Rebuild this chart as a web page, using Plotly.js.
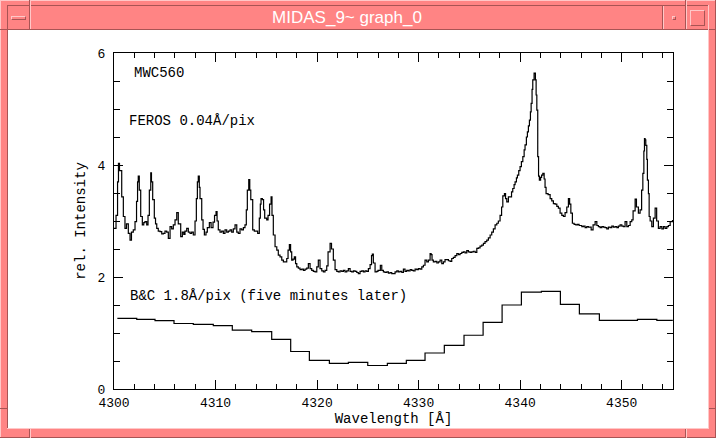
<!DOCTYPE html>
<html>
<head>
<meta charset="utf-8">
<script src="https://cdn.plot.ly/plotly-3.0.1.min.js"></script>
<style>
  html, body { margin: 0; padding: 0; background: #ff8484; }
  #win { position: absolute; left: 0; top: 0; width: 716px; height: 438px; background: #ff8484; overflow: hidden; }
  .ln { position: absolute; }
  #client { position: absolute; left: 8px; top: 30px; width: 700px; height: 398px; background: #ffffff; }
  #ttl { position: absolute; left: 31px; top: 6px; width: 632px; height: 23px; line-height: 23px;
         text-align: center; color: #ffffff; font-family: "Liberation Sans", Arial, sans-serif; font-size: 17px; }
  #chart { position: absolute; left: 0; top: 0; width: 716px; height: 438px; }
</style>
</head>
<body>
<div id="win">
  <!-- outer bevel -->
  <div class="ln" style="left:0;top:0;width:716px;height:1px;background:#ffc8c8"></div>
  <div class="ln" style="left:0;top:0;width:1px;height:438px;background:#ffc8c8"></div>
  <div class="ln" style="left:0;top:437px;width:716px;height:1px;background:#a85454"></div>
  <div class="ln" style="left:715px;top:0;width:1px;height:438px;background:#a85454"></div>
  <!-- inner frame lines -->
  <div class="ln" style="left:7px;top:5px;width:702px;height:1px;background:#a85454"></div>
  <div class="ln" style="left:7px;top:5px;width:1px;height:424px;background:#a85454"></div>
  <div class="ln" style="left:708px;top:5px;width:1px;height:424px;background:#ffc8c8"></div>
  <div class="ln" style="left:7px;top:428px;width:702px;height:1px;background:#ffc8c8"></div>
  <div class="ln" style="left:8px;top:29px;width:700px;height:1px;background:#a85454"></div>
  <!-- title bar separators -->
  <div class="ln" style="left:29px;top:0;width:1px;height:29px;background:#a85454"></div>
  <div class="ln" style="left:30px;top:0;width:1px;height:29px;background:#ffc8c8"></div>
  <div class="ln" style="left:662px;top:6px;width:1px;height:23px;background:#a85454"></div>
  <div class="ln" style="left:663px;top:6px;width:1px;height:23px;background:#ffc8c8"></div>
  <div class="ln" style="left:685px;top:0;width:1px;height:29px;background:#a85454"></div>
  <div class="ln" style="left:686px;top:0;width:1px;height:29px;background:#ffc8c8"></div>
  <!-- resize notches -->
  <div class="ln" style="left:29px;top:429px;width:1px;height:9px;background:#a85454"></div>
  <div class="ln" style="left:30px;top:429px;width:1px;height:9px;background:#ffc8c8"></div>
  <div class="ln" style="left:685px;top:429px;width:1px;height:9px;background:#a85454"></div>
  <div class="ln" style="left:686px;top:429px;width:1px;height:9px;background:#ffc8c8"></div>
  <div class="ln" style="left:0;top:29px;width:7px;height:1px;background:#a85454"></div>
  <div class="ln" style="left:709px;top:29px;width:7px;height:1px;background:#a85454"></div>
  <div class="ln" style="left:0;top:408px;width:7px;height:1px;background:#a85454"></div>
  <div class="ln" style="left:709px;top:408px;width:7px;height:1px;background:#a85454"></div>
  <!-- buttons -->
  <div class="ln" style="left:11px;top:16px;border-top:1px solid #ffc8c8;border-left:1px solid #ffc8c8;border-bottom:1px solid #a85454;border-right:1px solid #a85454;box-sizing:border-box;width:15px;height:4px"></div>
  <div class="ln" style="left:672px;top:16px;width:4px;height:4px;border-top:1px solid #ffc8c8;border-left:1px solid #ffc8c8;border-bottom:1px solid #a85454;border-right:1px solid #a85454;box-sizing:border-box"></div>
  <div class="ln" style="left:690px;top:10px;width:15px;height:16px;border-top:1px solid #ffc8c8;border-left:1px solid #ffc8c8;border-bottom:1px solid #a85454;border-right:1px solid #a85454;box-sizing:border-box"></div>
  <div id="ttl">MIDAS_9~ graph_0</div>
  <div id="client"></div>
  <div id="chart"></div>
</div>
<script>
// FEROS spectrum (0.04 A/pix)
const ferosWavelength = [
4300.00,4300.20,4300.35,4300.44,4300.54,4300.76,4300.92,4301.08,4301.23,4301.41,4301.58,4301.72,4301.90,4302.07,4302.22,4302.32,4302.39,4302.49,4302.63,4302.79,
4302.93,4303.05,4303.22,4303.35,4303.48,4303.62,4303.69,4303.81,4303.97,4304.09,4304.21,4304.36,4304.53,4304.70,4304.86,4305.02,4305.19,4305.35,4305.52,4305.68,
4305.84,4306.01,4306.18,4306.33,4306.57,4306.73,4306.87,4306.99,4307.16,4307.32,4307.49,4307.65,4307.81,4307.98,4308.11,4308.21,4308.30,4308.40,4308.47,4308.64,
4308.77,4308.90,4309.06,4309.19,4309.39,4309.56,4309.75,4309.90,4310.05,4310.15,4310.27,4310.44,4310.61,4310.77,4310.93,4311.10,4311.26,4311.43,4311.59,4311.75,
4311.92,4312.09,4312.24,4312.41,4312.58,4312.74,4312.90,4313.03,4313.13,4313.27,4313.37,4313.47,4313.66,4313.82,4313.96,4314.15,4314.31,4314.41,4314.48,4314.61,
4314.73,4314.84,4315.04,4315.17,4315.32,4315.47,4315.56,4315.69,4315.86,4316.03,4316.18,4316.35,4316.52,4316.68,4316.84,4317.01,4317.14,4317.27,4317.39,4317.50,
4317.63,4317.76,4317.88,4318.00,4318.15,4318.32,4318.49,4318.65,4318.81,4318.98,4319.14,4319.31,4319.47,4319.63,4319.80,4319.97,4320.12,4320.29,4320.46,4320.62,
4320.78,4320.95,4321.08,4321.28,4321.42,4321.60,4321.77,4321.94,4322.09,4322.26,4322.43,4322.59,4322.75,4322.92,4323.08,4323.25,4323.41,4323.57,4323.74,4323.91,
4324.06,4324.23,4324.40,4324.56,4324.72,4324.89,4325.05,4325.22,4325.36,4325.44,4325.54,4325.71,4325.88,4326.00,4326.23,4326.37,4326.53,4326.69,4326.86,4327.02,
4327.19,4327.35,4327.51,4327.68,4327.85,4328.00,4328.17,4328.34,4328.50,4328.66,4328.83,4328.99,4329.16,4329.32,4329.48,4329.65,4329.82,4329.97,4330.14,4330.31,
4330.47,4330.63,4330.80,4330.96,4331.13,4331.23,4331.32,4331.45,4331.62,4331.79,4331.94,4332.11,4332.28,4332.44,4332.60,4332.77,4332.93,4333.10,4333.26,4333.42,
4333.59,4333.76,4333.91,4334.08,4334.25,4334.41,4334.57,4334.74,4334.90,4335.07,4335.23,4335.39,4335.56,4335.73,4335.88,4336.05,4336.22,4336.38,4336.54,4336.71,
4336.87,4337.04,4337.20,4337.36,4337.53,4337.70,4337.85,4338.02,4338.17,4338.29,4338.45,4338.56,4338.68,4338.84,4339.01,4339.15,4339.27,4339.40,4339.50,4339.63,
4339.73,4339.86,4339.99,4340.12,4340.26,4340.39,4340.48,4340.61,4340.71,4340.81,4340.91,4341.01,4341.08,4341.17,4341.24,4341.37,4341.50,4341.57,4341.64,4341.73,
4341.81,4341.89,4342.01,4342.11,4342.23,4342.36,4342.45,4342.55,4342.75,4342.95,4343.11,4343.27,4343.44,4343.61,4343.76,4343.93,4344.10,4344.26,4344.42,4344.59,
4344.75,4344.87,4344.99,4345.14,4345.31,4345.48,4345.64,4345.80,4346.07,4346.23,4346.39,4346.56,4346.72,4346.99,4347.18,4347.38,4347.55,4347.70,4347.87,4348.04,
4348.20,4348.36,4348.53,4348.69,4348.86,4349.02,4349.18,4349.35,4349.52,4349.67,4349.84,4350.01,4350.17,4350.33,4350.50,4350.66,4350.83,4350.99,4351.12,4351.32,
4351.45,4351.64,4351.81,4351.96,4352.08,4352.18,4352.24,4352.30,4352.37,4352.47,4352.53,4352.63,4352.70,4352.80,4352.96,4353.12,4353.29,4353.44,4353.61,4353.78,
4353.95,4354.11,4354.27,4354.44,4354.60,4354.77,4355.00];
const ferosIntensity = [
2.87,3.10,3.70,4.03,3.90,3.43,3.08,2.87,2.95,2.78,2.66,2.80,2.84,2.99,3.35,3.70,3.80,3.55,3.08,2.93,
2.97,2.99,2.93,3.10,3.55,3.86,3.70,3.38,3.05,2.95,2.87,2.82,2.81,2.77,2.78,2.82,2.80,2.69,2.90,2.86,
2.93,3.02,3.15,2.95,2.72,2.80,2.76,2.82,2.87,2.80,2.78,2.80,2.75,3.00,3.40,3.70,3.80,3.60,3.40,3.02,
2.85,2.75,2.80,2.88,2.97,2.88,2.98,3.10,3.17,3.00,2.84,2.80,2.82,2.78,2.84,2.80,2.82,2.84,2.80,2.86,
2.93,2.80,2.78,2.86,2.84,2.88,2.93,3.20,3.55,3.74,3.55,3.38,2.84,2.82,2.82,2.78,3.05,3.30,3.40,3.38,
3.20,3.05,3.02,3.10,3.30,3.43,3.10,2.75,2.54,2.48,2.39,2.36,2.30,2.27,2.27,2.33,2.48,2.58,2.45,2.30,
2.32,2.36,2.24,2.18,2.16,2.13,2.14,2.12,2.14,2.16,2.24,2.15,2.12,2.10,2.09,2.18,2.30,2.15,2.11,2.09,
2.12,2.20,2.45,2.60,2.50,2.30,2.13,2.10,2.09,2.11,2.10,2.12,2.09,2.11,2.15,2.10,2.09,2.11,2.10,2.08,
2.06,2.10,2.11,2.09,2.11,2.10,2.15,2.22,2.38,2.41,2.25,2.09,2.10,2.12,2.21,2.12,2.09,2.08,2.09,2.07,
2.08,2.06,2.06,2.09,2.11,2.09,2.10,2.08,2.14,2.10,2.12,2.11,2.13,2.12,2.11,2.14,2.13,2.15,2.14,2.18,
2.21,2.30,2.27,2.30,2.42,2.40,2.30,2.27,2.28,2.25,2.27,2.30,2.24,2.27,2.31,2.31,2.29,2.28,2.33,2.35,
2.38,2.42,2.40,2.42,2.44,2.45,2.43,2.47,2.45,2.44,2.45,2.46,2.44,2.51,2.52,2.55,2.57,2.60,2.63,2.66,
2.70,2.75,2.80,2.86,2.93,2.96,3.00,3.10,3.25,3.45,3.49,3.40,3.34,3.43,3.43,3.52,3.58,3.65,3.70,3.77,
3.82,3.90,3.97,4.06,4.15,4.27,4.36,4.50,4.59,4.70,4.80,4.95,5.10,5.35,5.52,5.64,5.52,5.25,4.98,4.15,
3.80,3.73,3.78,3.82,3.85,3.75,3.60,3.49,3.47,3.40,3.36,3.31,3.30,3.26,3.23,3.14,3.10,3.08,3.15,3.25,
3.40,3.30,3.14,2.96,2.94,2.93,2.94,2.92,2.90,2.91,2.88,2.90,2.89,2.84,2.93,2.99,2.92,2.90,2.88,2.90,
2.89,2.88,2.86,2.89,2.88,2.91,2.89,2.90,2.88,2.91,2.93,2.91,2.90,2.99,2.90,2.92,2.99,3.02,3.18,3.39,
3.25,3.14,3.20,3.55,3.85,4.25,4.47,4.45,4.35,4.10,3.73,3.49,3.08,3.00,2.90,3.05,3.23,3.00,2.87,2.90,
2.86,2.90,2.87,2.90,2.92,2.99,3.02];

// B&C spectrum (1.8 A/pix), left bin edges and bin values
const bcWavelength = [4300.33,4302.24,4304.04,4305.91,4307.81,4309.78,4311.65,4313.56,4315.53,4317.40,
4319.24,4321.21,4323.08,4324.99,4326.92,4328.79,4330.63,4332.53,4334.47,4336.35,
4338.22,4340.12,4342.09,4343.96,4345.83,4347.80,4349.67,4351.55,4353.46,4355.03];
const bcIntensity = [1.26,1.245,1.22,1.17,1.155,1.13,1.05,1.025,0.886,0.67,
0.51,0.457,0.475,0.42,0.457,0.51,0.643,0.78,0.96,1.19,
1.50,1.73,1.745,1.51,1.34,1.227,1.227,1.245,1.227,1.227];

const xTickVals = [4300,4310,4320,4330,4340,4350];
const yTickVals = [0,2,4,6];
const labels = ["MWC560", "FEROS 0.04Å/pix", "B&C 1.8Å/pix (five minutes later)"];

const mono = '"Liberation Mono", "DejaVu Sans Mono", monospace';

const traces = [
  { x: ferosWavelength, y: ferosIntensity, type: 'scatter', mode: 'lines',
    line: { color: '#000000', width: 1.2, shape: 'hv' }, hoverinfo: 'skip' },
  { x: bcWavelength, y: bcIntensity, type: 'scatter', mode: 'lines',
    line: { color: '#000000', width: 1.2, shape: 'hv' }, hoverinfo: 'skip' }
];

const axisCommon = {
  showgrid: false, zeroline: false, showline: true, linecolor: '#000', linewidth: 1,
  mirror: 'ticks', ticks: 'inside', tickcolor: '#000', tickwidth: 1, ticklen: 9,
  tickfont: { family: mono, size: 13, color: '#000' }
};

const layout = {
  width: 716, height: 438,
  margin: { l: 114, r: 43.3, t: 53, b: 49.3, pad: 0 },
  paper_bgcolor: 'rgba(0,0,0,0)', plot_bgcolor: '#ffffff',
  showlegend: false,
  xaxis: Object.assign({}, axisCommon, {
    range: [4300, 4355.05], tickvals: xTickVals, ticktext: xTickVals.map(String),
    ticklabelstandoff: 1,
    minor: { dtick: 2, tick0: 4300, ticklen: 5, ticks: 'inside', tickcolor: '#000', showgrid: false },
    title: { text: 'Wavelength [Å]', font: { family: mono, size: 14, color: '#000' }, standoff: 1 }
  }),
  yaxis: Object.assign({}, axisCommon, {
    range: [0, 6], tickvals: yTickVals, ticktext: yTickVals.map(String),
    ticklabelstandoff: 5,
    minor: { dtick: 0.5, tick0: 0, ticklen: 6, ticks: 'inside', tickcolor: '#000', showgrid: false },
    title: { text: 'rel. Intensity', font: { family: mono, size: 14, color: '#000' }, standoff: 8 }
  }),
  annotations: [
    { text: labels[0], xref: 'paper', yref: 'paper', x: 0.032, y: 0.940, xanchor: 'left', yanchor: 'middle', showarrow: false, font: { family: mono, size: 14, color: '#000' } },
    { text: labels[1], xref: 'paper', yref: 'paper', x: 0.023, y: 0.798, xanchor: 'left', yanchor: 'middle', showarrow: false, font: { family: mono, size: 14, color: '#000' } },
    { text: labels[2], xref: 'paper', yref: 'paper', x: 0.025, y: 0.277, xanchor: 'left', yanchor: 'middle', showarrow: false, font: { family: mono, size: 14, color: '#000' } }
  ]
};

Plotly.newPlot('chart', traces, layout, { displayModeBar: false, staticPlot: true });
</script>
</body>
</html>
